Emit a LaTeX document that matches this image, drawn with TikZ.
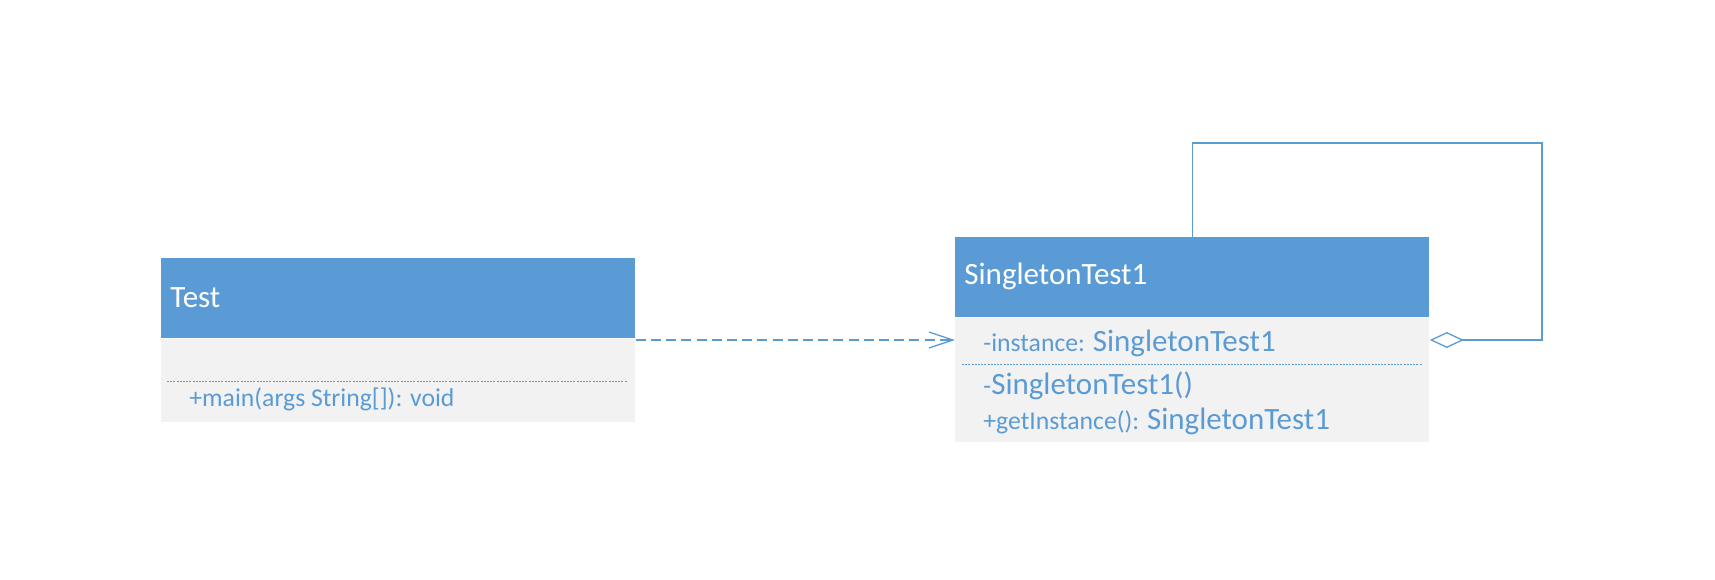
\documentclass[tikz,border=0pt]{standalone}
\usepackage{fontspec}
\setmainfont{Carlito}
\usetikzlibrary{arrows.meta}

\definecolor{umlblue}{HTML}{5B9BD5}
\definecolor{umlgray}{HTML}{F2F2F2}
\newcommand\titlesz{\fontsize{15.5}{18}\selectfont}
\newcommand\membsz{\fontsize{12.85}{15}\selectfont}

\begin{document}
\begin{tikzpicture}[x=0.5pt, y=-0.5pt,
    head/.style={fill=umlblue, anchor=north west, inner sep=0, minimum width=237pt, minimum height=40pt},
    body/.style={fill=umlgray, anchor=north west, inner sep=0, minimum width=237pt},
    title/.style={anchor=base west, inner sep=0, text=white, font=\titlesz},
    memb/.style={anchor=base west, inner sep=0, text=umlblue, font=\membsz},
    sep/.style={draw=umlblue, line width=0.5pt, dash pattern=on 1pt off 0.6pt},
    dep/.style={draw=umlblue, line width=0.65pt, dash pattern=on 5pt off 2.6pt, -{Straight Barb[length=12pt, width=8pt]}},
    agg/.style={draw=umlblue, line width=0.65pt, -{Diamond[open, length=17pt, width=8pt]}}]
    \useasboundingbox (0,0) rectangle (1715,579);
    % class Test
    \node[head] (testhead) at (161,258) {};
    \node[body, minimum height=41.5pt] (testbody) at (161,339) {};
    \node[title] (testname) at (170,307) {Test};
    \draw[sep] (167,381) -- (627,381);
    \node[memb] (main) at (189,406) {+main(args String[]): void};
    % class SingletonTest1
    \node[head] (singhead) at (955,237) {};
    \node[body, minimum height=62pt] (singbody) at (955,318) {};
    \node[title] (singname) at (964,284) {SingletonTest1};
    \node[memb] (instance) at (983,351) {-instance: {\titlesz SingletonTest1}};
    \draw[sep] (962,364) -- (1422,364);
    \node[memb] (ctor) at (983,394) {-{\titlesz SingletonTest1()}};
    \node[memb] (getinst) at (983,429) {+getInstance(): {\titlesz SingletonTest1}};
    % connectors
    \coordinate (aggtop) at (1542,143);
    \coordinate (aggin) at (1542,340);
    \draw[dep] (testbody.east |- aggin) -- (singbody.west |- aggin);
    \draw[agg] (singhead.north) |- (aggtop) -- (aggin) -- (aggin -| singbody.east);
\end{tikzpicture}
\end{document}
